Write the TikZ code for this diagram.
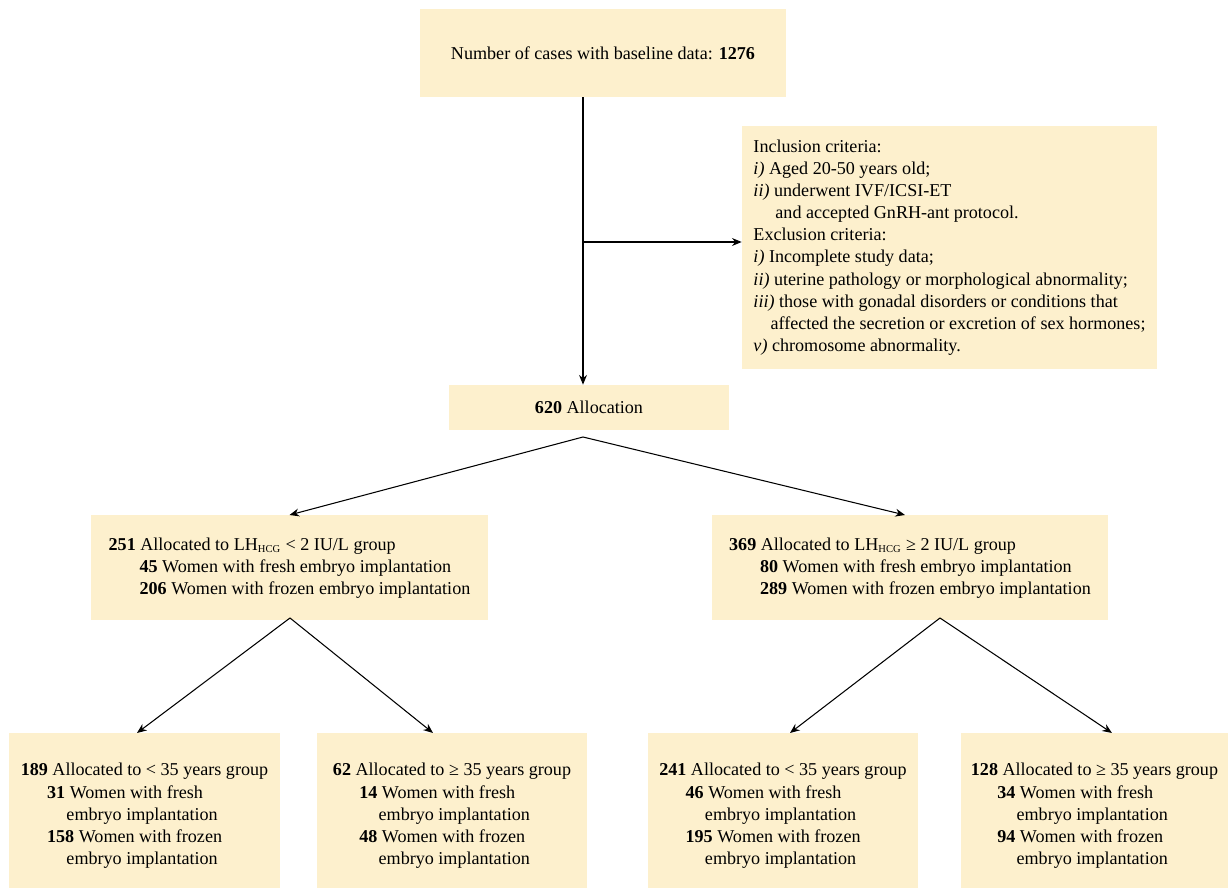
\documentclass[tikz,border=0pt]{standalone}
\usepackage{fontspec}
\setmainfont{Liberation Serif}
\usepackage{tikz}
\usetikzlibrary{arrows.meta, positioning}
\definecolor{boxfill}{RGB}{253,240,205}
\tikzset{
	flowbox/.style={fill=boxfill, draw=none, align=left, inner sep=0pt,
		font=\fontsize{10.3}{12.6}\selectfont}
}
\tikzset{
	flowarrow/.style={line width=0.6pt, -{Stealth[length=5.5pt,width=4.5pt]}}
}
\newcommand{\lhhcg}{LH\textsubscript{\fontsize{6}{7}\selectfont HCG}}

\begin{document}
\begin{tikzpicture}[x=0.02cm, y=-0.02cm]
      \useasboundingbox (0,0) rectangle (1232,888);
      \node[flowbox, align=center, minimum width=7.32cm, minimum height=1.76cm] (cases) at (603,53)
        {Number of cases with baseline data: \textbf{1276}};
      \node[flowbox, minimum width=8.3cm, minimum height=4.86cm] (criteria) at (949.5,247.5)
        {Inclusion criteria:\\
         \textit{i)} Aged 20-50 years old;\\
         \textit{ii)} underwent IVF/ICSI-ET\\
         \hspace*{12.5pt}and accepted GnRH-ant protocol.\\
         Exclusion criteria:\\
         \textit{i)} Incomplete study data;\\
         \textit{ii)} uterine pathology or morphological abnormality;\\
         \textit{iii)} those with gonadal disorders or conditions that\\
         \hspace*{9.7pt}affected the secretion or excretion of sex hormones;\\
         \textit{v)} chromosome abnormality.};
      \node[flowbox, align=center, minimum width=5.6cm, minimum height=0.9cm] (alloc) at (589,407.5)
        {\textbf{620} Allocation};
      % LH groups
      \node[flowbox, anchor=north, minimum width=7.94cm, minimum height=2.1cm] (lowlh) at (289.5,515)
        {\textbf{251} Allocated to \lhhcg{} < 2 IU/L group\\
         \hspace*{17.6pt}\textbf{45} Women with fresh embryo implantation\\
         \hspace*{17.6pt}\textbf{206} Women with frozen embryo implantation};
      \node[flowbox, anchor=north, minimum width=7.94cm, minimum height=2.1cm] (highlh) at (910,515)
        {\textbf{369} Allocated to \lhhcg{} ≥ 2 IU/L group\\
         \hspace*{17.6pt}\textbf{80} Women with fresh embryo implantation\\
         \hspace*{17.6pt}\textbf{289} Women with frozen embryo implantation};
      % age groups
      \node[flowbox, anchor=north, minimum width=5.42cm, minimum height=3.3cm] (lowyoung) at (144.5,733)
        {\textbf{189} Allocated to < 35 years group\\
         \hspace*{15pt}\textbf{31} Women with fresh\\
         \hspace*{26pt}embryo implantation\\
         \hspace*{15pt}\textbf{158} Women with frozen\\
         \hspace*{26pt}embryo implantation};
      \node[flowbox, anchor=north, minimum width=5.4cm, minimum height=3.3cm] (lowold) at (452,733)
        {\textbf{62} Allocated to ≥ 35 years group\\
         \hspace*{15pt}\textbf{14} Women with fresh\\
         \hspace*{26pt}embryo implantation\\
         \hspace*{15pt}\textbf{48} Women with frozen\\
         \hspace*{26pt}embryo implantation};
      \node[flowbox, anchor=north, minimum width=5.4cm, minimum height=3.3cm] (highyoung) at (783,733)
        {\textbf{241} Allocated to < 35 years group\\
         \hspace*{15pt}\textbf{46} Women with fresh\\
         \hspace*{26pt}embryo implantation\\
         \hspace*{15pt}\textbf{195} Women with frozen\\
         \hspace*{26pt}embryo implantation};
      \node[flowbox, anchor=north, minimum width=5.34cm, minimum height=3.3cm] (highold) at (1094.5,733)
        {\textbf{128} Allocated to ≥ 35 years group\\
         \hspace*{15pt}\textbf{34} Women with fresh\\
         \hspace*{26pt}embryo implantation\\
         \hspace*{15pt}\textbf{94} Women with frozen\\
         \hspace*{26pt}embryo implantation};
      % branch points
      \coordinate (split) at (583,242);
      \coordinate (fork) at (583,437);
      \coordinate (forkl) at (290,618);
      \coordinate (forkr) at (940,618);
      \draw[line width=0.6pt] (cases.south -| split) -- (split);
      \draw[flowarrow] (split) -- (split |- alloc.north);
      \draw[flowarrow] (split) -- (split -| criteria.west);
      \draw[flowarrow] (fork) -- (lowlh.north);
      \draw[flowarrow] (fork) -- ([xshift=-0.1cm]highlh.north);
      \draw[flowarrow] (forkl) -- ([xshift=-0.15cm]lowyoung.north);
      \draw[flowarrow] (forkl) -- ([xshift=-0.38cm]lowold.north);
      \draw[flowarrow] (forkr) -- ([xshift=0.14cm]highyoung.north);
      \draw[flowarrow] (forkr) -- ([xshift=0.35cm]highold.north);
\end{tikzpicture}
\end{document}
